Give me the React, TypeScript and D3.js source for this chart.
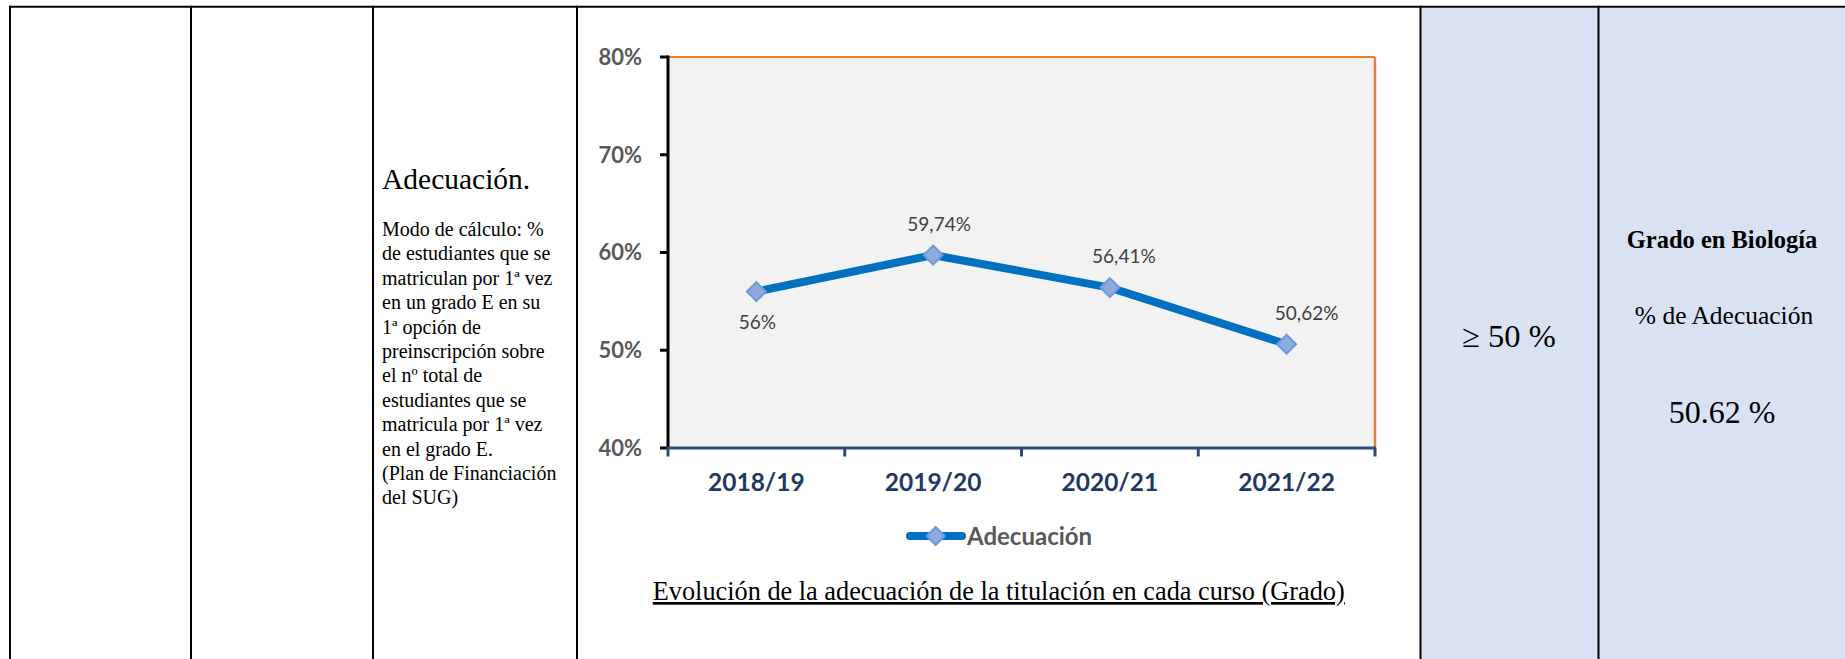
import React from "react";
import * as d3 from "d3";

const categories = ["2018/19", "2019/20", "2020/21", "2021/22"];
const adecuacion = [0.56, 0.5974, 0.5641, 0.5062];
const dataLabels = ["56%", "59,74%", "56,41%", "50,62%"];
const yTicks = [0.4, 0.5, 0.6, 0.7, 0.8];
const yTickLabels = ["40%", "50%", "60%", "70%", "80%"];
const seriesName = "Adecuación";
const chartTitle = "Evolución de la adecuación de la titulación en cada curso (Grado)";
const descTitle = "Adecuación.";
const descLines = [
  "Modo de cálculo: %",
  "de estudiantes que se",
  "matriculan por 1ª vez",
  "en un grado E en su",
  "1ª opción de",
  "preinscripción sobre",
  "el nº total de",
  "estudiantes que se",
  "matricula por 1ª vez",
  "en el grado E.",
  "(Plan de Financiación",
  "del SUG)",
];
const targetText = "≥ 50 %";
const degreeName = "Grado en Biología";
const indicatorName = "% de Adecuación";
const indicatorValue = "50.62 %";

// layout / style (not data)
const W = 1845;
const H = 659;
const PLOT = { left: 668, right: 1375, top: 57, bottom: 448 };
const LABEL_POS = ["below", "above", "above", "above"];
const LABEL_DX = [1, 6, 14, 20];
const colLines = [10, 191, 373, 577, 1420.5, 1598.5];
const SANS = "Lato, 'Open Sans', sans-serif";
const SERIF = "'Liberation Serif', 'Times New Roman', Times, 'DejaVu Serif', 'Noto Serif', serif";

function diamond(cx: number, cy: number, r: number) {
  return `M${cx},${cy - r}L${cx + r},${cy}L${cx},${cy + r}L${cx - r},${cy}Z`;
}

export default function App() {
  const x = d3
    .scaleBand<string>()
    .domain(categories)
    .range([PLOT.left, PLOT.right])
    .padding(0);
  const y = d3.scaleLinear().domain([0.4, 0.8]).range([PLOT.bottom, PLOT.top]);
  const cx = (c: string) => (x(c) as number) + x.bandwidth() / 2;
  const pts = categories.map((c, i) => [cx(c), y(adecuacion[i])] as [number, number]);
  const line = d3.line<[number, number]>().x((d) => d[0]).y((d) => d[1]);
  const boundaries = [...categories.map((c) => x(c) as number), PLOT.right];
  const cellCenter = (577 + 1420.5) / 2;
  const serifStyle = { fontFamily: SERIF };

  return (
    <svg
      width={W}
      height={H}
      viewBox={`0 0 ${W} ${H}`}
      style={{ position: "absolute", left: 0, top: 0, display: "block", background: "#fff" }}
    >
      {/* table cells fill */}
      <rect x={1421.5} y={7.7} width={W - 1421.5} height={H - 7.7} fill="#D9E2F3" />
      {/* table borders */}
      <line x1={9} x2={W} y1={6.7} y2={6.7} stroke="#000" strokeWidth={2} />
      {colLines.map((lx, i) => (
        <line key={i} x1={lx} x2={lx} y1={5.7} y2={H} stroke="#000" strokeWidth={2} />
      ))}

      {/* description cell */}
      <text x={382} y={189} style={serifStyle} fontSize={29.5} fill="#000">
        {descTitle}
      </text>
      {descLines.map((t, i) => (
        <text key={i} x={382} y={236 + i * 24.4} style={serifStyle} fontSize={20} fill="#000">
          {t}
        </text>
      ))}

      {/* chart plot area */}
      <rect
        x={PLOT.left}
        y={PLOT.top}
        width={PLOT.right - PLOT.left}
        height={PLOT.bottom - PLOT.top}
        fill="#F2F2F2"
      />
      <line x1={PLOT.left} x2={PLOT.right} y1={PLOT.top} y2={PLOT.top} stroke="#ED7D31" strokeWidth={2.2} />
      <line x1={PLOT.right} x2={PLOT.right} y1={PLOT.top} y2={PLOT.bottom} stroke="#ED7D31" strokeWidth={2.5} />

      {/* y axis */}
      <line x1={PLOT.left} x2={PLOT.left} y1={PLOT.top - 1.5} y2={PLOT.bottom} stroke="#000" strokeWidth={3} />
      {yTicks.map((t, i) => (
        <g key={i}>
          <line x1={PLOT.left - 8} x2={PLOT.left} y1={y(t)} y2={y(t)} stroke="#000" strokeWidth={3} />
          <text
            x={642}
            y={y(t)}
            dy="0.36em"
            textAnchor="end"
            fontFamily={SANS}
            fontWeight={700}
            fontSize={22}
            fill="#595959"
          >
            {yTickLabels[i]}
          </text>
        </g>
      ))}

      {/* x axis */}
      <line x1={PLOT.left - 1.5} x2={PLOT.right + 1} y1={PLOT.bottom} y2={PLOT.bottom} stroke="#2E4A7D" strokeWidth={3} />
      {boundaries.map((bx, i) => (
        <line key={i} x1={bx} x2={bx} y1={PLOT.bottom} y2={PLOT.bottom + 8.5} stroke="#2E4A7D" strokeWidth={3} />
      ))}
      {categories.map((c) => (
        <text
          key={c}
          x={cx(c)}
          y={491}
          textAnchor="middle"
          fontFamily={SANS}
          fontWeight={700}
          fontSize={24.5}
          fill="#1F3864"
        >
          {c}
        </text>
      ))}

      {/* series */}
      <path d={line(pts) || ""} fill="none" stroke="#0070C0" strokeWidth={8} strokeLinejoin="round" />
      {pts.map((p, i) => (
        <path key={i} d={diamond(p[0], p[1], 9.5)} fill="#8EA9DB" stroke="#6B9BDA" strokeWidth={2} />
      ))}
      {pts.map((p, i) => (
        <text
          key={i}
          x={p[0] + LABEL_DX[i]}
          y={LABEL_POS[i] === "below" ? p[1] + 31 : p[1] - 31}
          dy="0.36em"
          textAnchor="middle"
          fontFamily={SANS}
          fontSize={19}
          fill="#404040"
        >
          {dataLabels[i]}
        </text>
      ))}

      {/* legend */}
      <line x1={910} x2={962} y1={536} y2={536} stroke="#0070C0" strokeWidth={8} strokeLinecap="round" />
      <path d={diamond(935.7, 536, 9)} fill="#8EA9DB" stroke="#6B9BDA" strokeWidth={2} />
      <text x={967} y={536} dy="0.36em" fontFamily={SANS} fontWeight={700} fontSize={24} fill="#595959">
        {seriesName}
      </text>

      {/* chart caption */}
      <text
        x={cellCenter}
        y={600}
        textAnchor="middle"
        fontSize={27}
        textLength={692}
        lengthAdjust="spacingAndGlyphs"
        style={{ fontFamily: SERIF, textDecoration: "underline" }}
        fill="#000"
      >
        {chartTitle}
      </text>

      {/* right cells */}
      <text x={1509} y={347} textAnchor="middle" style={serifStyle} fontSize={32.5} fill="#000">
        {targetText}
      </text>
      <text x={1722} y={248} textAnchor="middle" style={serifStyle} fontWeight={700} fontSize={24.5} fill="#000">
        {degreeName}
      </text>
      <text x={1724} y={324} textAnchor="middle" style={serifStyle} fontSize={25.5} fill="#000">
        {indicatorName}
      </text>
      <text x={1722} y={423} textAnchor="middle" style={serifStyle} fontSize={32} fill="#000">
        {indicatorValue}
      </text>
    </svg>
  );
}
